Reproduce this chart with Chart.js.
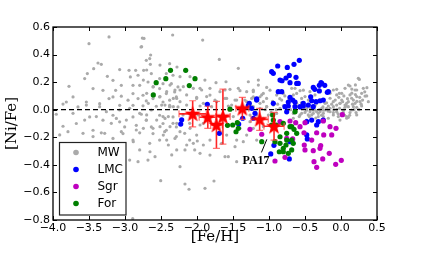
<!DOCTYPE html>
<html>
<head>
<meta charset="utf-8">
<script src="https://cdn.jsdelivr.net/npm/chart.js@4.4.1/dist/chart.umd.min.js"></script>
<style>
html, body { margin: 0; padding: 0; background: #fff; }
canvas { display: block; }
</style>
</head>
<body>
<canvas id="myChart" width="421" height="261"></canvas>
<script>
const xTicks = [-4.0, -3.5, -3.0, -2.5, -2.0, -1.5, -1.0, -0.5, 0.0, 0.5];
const yTicks = [-0.8, -0.6, -0.4, -0.2, 0.0, 0.2, 0.4, 0.6];
const xTitle = '[Fe/H]';
const yTitle = '[Ni/Fe]';
const legendNames = ['MW', 'LMC', 'Sgr', 'For'];
const legendColors = ['#aaaaaa', '#0000ff', '#bf00bf', '#007f00'];

// [Fe/H], [Ni/Fe]
const mw = [
    [-3.5,0.479],[-3.222,0.528],[-2.759,0.52],[-3.523,0.262],[-3.778,0.17],[-3.56,0.226],[-3.722,0.093],[-3.815,0.056],
    [-3.375,0.339],[-3.329,0.329],[-3.435,0.298],[-3.245,0.242],[-3.167,0.213],[-3.444,0.153],[-3.306,0.141],[-3.13,0.141],
    [-3.051,0.177],[-2.926,0.238],[-3.074,0.291],[-2.944,0.286],[-2.852,0.286],[-2.778,0.455],[-2.657,0.371],[-2.704,0.358],
    [-2.648,0.329],[-2.741,0.286],[-2.819,0.25],[-2.634,0.262],[-2.889,0.177],[-2.796,0.177],[-2.68,0.201],[-2.611,0.165],
    [-2.519,0.153],[-2.889,0.117],[-3.051,0.098],[-3.167,0.093],[-3.222,0.081],[-2.958,0.069],[-2.819,0.081],[-2.75,0.105],
    [-2.704,0.064],[-2.611,0.081],[-2.519,0.093],[-2.426,0.117],[-2.472,0.056],[-2.38,0.069],[-2.287,0.093],[-2.31,0.129],
    [-2.264,0.165],[-2.472,0.189],[-2.356,0.189],[-2.519,0.226],[-2.426,0.262],[-2.333,0.25],[-2.278,0.31],[-2.38,0.334],
    [-3.074,0.032],[-2.889,0.032],[-2.75,0.028],[-2.565,0.025],[-2.38,0.032],[-2.264,0.02],[-3.352,0.044],[-3.537,0.056],
    [-3.653,0.02],[-3.954,-0.033],[-3.861,-0.12],[-3.676,-0.1],[-3.491,-0.052],[-3.306,-0.076],[-3.444,-0.149],[-3.329,-0.168],
    [-3.167,-0.04],[-3.074,-0.088],[-3.005,-0.125],[-2.889,-0.052],[-2.843,-0.113],[-2.773,-0.033],[-2.704,-0.076],[-2.634,-0.125],
    [-2.611,-0.173],[-2.519,-0.04],[-2.472,-0.1],[-2.426,-0.149],[-2.333,-0.052],[-2.287,-0.125],[-3.028,-0.173],[-2.796,-0.168],
    [-3.861,0.041],[-3.722,-0.026],[-3.537,0.034],[-3.56,-0.075],[-3.352,0.022],[-3.398,-0.05],[-3.259,-0.014],[-3.19,-0.099],
    [-3.074,-0.002],[-3.12,-0.063],[-2.935,0.01],[-2.981,-0.075],[-2.843,-0.147],[-2.796,-0.026],[-2.704,-0.075],[-2.634,-0.002],
    [-2.611,-0.135],[-2.472,-0.05],[-2.449,-0.159],[-2.38,0.022],[-2.333,-0.099],[-2.287,-0.195],[-2.519,-0.22],[-2.657,-0.244],
    [-2.796,-0.292],[-2.889,-0.22],[-2.935,-0.365],[-3.051,-0.159],[-3.167,-0.208],[-3.282,-0.171],[-3.444,-0.195],[-3.583,-0.171],
    [-3.792,-0.159],[-3.907,-0.183],[-2.819,-0.377],[-2.681,-0.365],[-2.102,-0.22],[-2.032,-0.292],[-2.171,-0.171],[-2.102,-0.099],
    [-2.194,-0.038],[-2.885,-0.232],[-2.893,-0.79],
    [-2.504,-0.515],[-2.167,-0.539],[-2.111,-0.577],[-1.889,-0.57],[-1.764,-0.517],[-2.653,-0.305],[-2.583,-0.341],[-2.421,-0.22],
    [-2.282,-0.292],[-2.351,-0.328],[-2.143,-0.256],[-1.996,-0.227],[-1.958,-0.316],[-1.611,-0.341],[-2.236,-0.413],[-1.449,-0.22],
    [-2.338,0.542],[-1.921,0.505],[-1.69,0.365],[-2.736,0.517],[-2.644,0.397],[-2.769,0.457],[-2.699,0.288],[-2.514,0.324],
    [-2.236,0.24],[-2.097,0.24],[-1.89,0.215],[-1.736,0.196],[-1.597,0.203],[-1.426,0.3],[-1.287,0.203],[-1.148,0.215],
    [-1.032,0.162],[-2.745,0.215],[-2.607,0.167],[-2.375,0.179],[-2.306,0.143],[-2.19,0.167],[-2.051,0.155],[-1.935,0.143],
    [-1.82,0.155],[-1.681,0.131],[-1.542,0.148],[-1.403,0.138],[-1.218,0.131],[-1.102,0.107],[-2.699,0.119],[-2.514,0.095],
    [-2.282,0.082],[-2.144,0.107],[-2.005,0.09],[-1.866,0.095],[-1.75,0.07],[-1.611,0.082],[-1.472,0.07],[-1.334,0.07],
    [-1.195,0.082],[-1.079,0.058],[-2.676,0.046],[-2.445,0.034],[-2.329,0.022],[-1.958,0.027],[-1.797,0.022],[-1.565,0.027],
    [-1.241,0.027],[-1.032,0.022],[-2.699,-0.038],[-2.56,-0.075],[-2.398,-0.05],[-2.282,-0.099],[-1.982,-0.038],[-1.912,-0.099],
    [-1.496,-0.05],[-1.426,-0.104],[-1.264,-0.087],[-1.171,-0.038],[-1.079,-0.123],[-2.745,-0.135],[-2.514,-0.123],
    [-2.444,-0.063],[-2.375,-0.123],[-2.468,-0.184],[-2.306,-0.208],[-2.236,-0.159],[-2.097,-0.135],[-2.005,-0.184],[-1.958,-0.111],
    [-2.051,-0.244],[-1.912,-0.256],[-2.167,-0.292],[-2.398,-0.256],[-1.82,-0.22],[-1.658,-0.244],[-1.588,-0.184],[-1.403,-0.135],
    [-1.31,-0.184],[-1.357,-0.232],[-1.472,-0.268],[-1.218,-0.135],[-1.82,-0.329],[-1.565,-0.341],[-1.449,-0.377],[-1.171,-0.22],
    [-2.421,0.131],[-2.329,0.082],[-2.491,0.034],[-2.375,0.022],[-2.236,0.058],[-2.005,0.082],[-1.912,0.046],[-1.82,0.106],
    [-1.727,0.058],[-1.588,0.082],[-1.519,0.034],[-1.449,0.07],[-1.31,0.131],[-1.218,0.094],[-1.125,0.046],[-1.033,0.082],
    [-1.611,0.143],[-1.958,0.155],[-2.236,0.143],[-2.144,0.034],[-1.426,0.155],
    [-1.218,0.142],[-1.148,0.179],[-1.079,0.118],[-1.125,0.094],[-1.241,0.082],[-1.31,0.058],[-0.986,0.142],[-0.894,0.106],
    [-0.801,0.118],[-0.824,0.07],[-0.732,0.058],[-0.94,0.034],[-1.033,0.022],[-1.125,0.01],[-1.218,0.022],[-0.847,0.01],
    [-0.755,-0.003],[-0.894,-0.027],[-1.009,-0.039],[-1.079,-0.063],[-1.264,-0.039],[-0.662,-0.027],[-0.57,0.01],[-0.477,-0.003],
    [-0.384,-0.003],[-0.315,-0.027],[-0.246,-0.003],[-0.153,0.01],[-0.06,-0.015],[0.032,-0.003],[0.078,0.046],[-0.014,0.046],
    [-0.107,0.058],[-0.222,0.046],[-0.338,0.058],[-0.454,0.07],[-0.547,0.082],[-0.616,0.118],[-0.685,0.155],[-0.523,0.142],
    [-0.639,0.155],[-0.569,0.138],[-0.662,0.107],[-0.5,0.095],[-0.431,0.131],[-0.361,0.107],[-0.153,0.131],[-0.06,0.148],
    [-0.023,0.119],[0.056,0.155],[0.125,0.172],[0.195,0.143],[0.255,0.22],[0.334,0.099],[0.172,0.07],[0.023,0.058],
    [-0.106,0.022],[-0.222,-0.002],[-0.338,-0.014],[-0.477,0.01],[-0.616,0.046],[-0.755,-0.002],[-0.569,-0.038],[-0.407,-0.038],
    [-0.245,-0.05],[-0.106,-0.038],[0.033,-0.021],[-0.014,-0.075],[0.079,-0.05],[0.148,-0.002],[0.209,-0.021],[0.218,0.017],
    [0.102,0.022],[-0.268,-0.075],[-0.477,-0.075],[-0.662,-0.062],
    [0.102,0.179],[0.241,0.228],[0.287,0.119],[0.357,0.1],[0.38,0.058],[0.218,0.095],[0.125,0.107],[0.01,0.119],
    [-0.06,0.107],[-0.106,0.143],[-0.152,0.083],[0.01,0.07],[0.102,0.058],[0.195,0.046],[0.264,0.058],[0.287,0.027],
    [0.172,0.022],[0.056,0.017],[-0.06,0.034],[-0.176,0.027],[-0.268,0.01],[-0.361,-0.002],[-0.43,-0.014],[-0.245,-0.026],
    [-0.106,-0.021],[0.01,-0.026],[0.125,-0.021],[0.218,-0.038],[0.102,-0.055],[-0.037,-0.05],[-0.176,-0.062],[-0.315,-0.05],
    [-0.454,-0.038],[-0.546,-0.026],[-0.523,0.01],[-0.592,0.022],[-0.662,0.07],[-0.43,0.07],[-0.338,0.046],[-0.152,0.119],
    [-0.199,0.01],[0.033,-0.002],[-0.06,0.003],[-0.152,-0.014],[-0.29,-0.014],[-0.384,-0.026],[-0.014,0.046],[0.056,0.034],
    [0.148,0.083],[0.218,0.143],[0.31,0.155],[0.079,-0.062],
    [-0.95,0.06],[-0.88,0.04],[-0.8,0.03],[-0.7,0.0],[-0.62,-0.01],[-0.55,0.05],[-0.48,0.03],[-0.42,0.01],
    [-0.36,0.03],[-0.3,0.0],[-0.25,0.02],[-0.2,0.05],[-0.13,0.04],[-0.08,0.07],[-0.03,0.09],[0.04,0.1],
    [0.09,0.08],[0.15,0.12],[0.2,0.11],[0.26,0.09],[0.3,0.07],[0.22,0.06],[0.16,0.04],[0.07,0.03],
    [-0.02,0.01],[-0.1,0.0],[-0.18,-0.01],[-0.27,-0.04],[-0.35,-0.06],[-0.44,-0.05],[-0.5,-0.02],[-0.58,-0.05],
    [-0.65,0.03],[-0.72,0.08],[-0.78,0.1],[-0.85,0.08],[-0.9,0.0],[-0.97,-0.02],[-1.05,0.0],[0.12,-0.04],
    [0.05,-0.04],[-0.04,-0.03],[0.18,0.0],[0.25,0.0],[0.28,0.04],[0.33,0.13],[0.36,0.16],[0.2,0.18],[0.15,0.15]
];

const lmc = [
    [-0.579,0.358],[-0.653,0.329],[-0.746,0.307],[-0.879,0.317],[-0.963,0.276],[-0.94,0.264],[-0.718,0.249],[-0.764,0.23],
    [-0.819,0.21],[-0.625,0.235],[-0.615,0.191],[-0.847,0.215],[-0.385,0.162],[-0.365,0.148],[-0.278,0.196],[-0.301,0.177],
    [-0.226,0.177],[-0.19,0.126],[-0.301,0.136],[-0.708,0.09],[-0.671,0.07],[-0.732,0.056],[-0.639,0.056],[-0.524,0.046],
    [-0.421,0.094],[-0.407,0.065],[-0.347,0.058],[-0.292,0.065],[-0.246,0.07],[-0.385,0.022],[-0.454,0.034],[-0.524,0.027],
    [-0.569,0.022],[-0.639,0.022],[-0.732,0.027],[-0.778,0.022],[-0.754,-0.015],[-0.824,0.131],[-0.871,0.131],[-0.94,0.046],
    [-1.171,0.07],[-1.24,0.01],[-1.274,0.046],[-1.194,-0.026],[-1.218,-0.062],[-0.476,-0.087],[-0.407,-0.075],[-0.338,-0.111],
    [-0.476,-0.183],[-0.246,-0.075],[-0.315,-0.087],[-0.931,-0.258],[-0.976,-0.321],[-0.718,-0.357],[-0.708,-0.232],[-0.468,-0.212],
    [-2.213,-0.073],[-2.226,-0.104],[-1.857,0.039],[-1.69,-0.171],[-1.421,-0.104],[-1.365,-0.062],[-1.288,0.029],[-1.171,0.078],
    [-0.268,0.191],[-0.176,0.131],[-0.593,0.191],[-0.708,0.196]
];

const sgr = [
    [0.018,-0.036],[-0.153,-0.123],[-0.069,-0.135],[-0.24,-0.183],[-0.129,-0.183],[-0.338,-0.167],[-0.5,-0.094],[-0.514,-0.167],
    [-0.51,-0.256],[-0.385,-0.297],[-0.292,-0.28],[-0.282,-0.26],[-0.163,-0.316],[-0.375,-0.377],[-0.254,-0.357],[-0.338,-0.418],
    [-0.074,-0.396],[0.004,-0.367],[-0.246,-0.082],[-0.629,-0.094],[-0.569,-0.123],[-0.671,-0.212],[-0.778,-0.345],[-0.754,-0.207],
    [-1.264,-0.142],[-0.917,-0.372],[-1.101,-0.178],[-0.708,-0.082],[-0.407,-0.22],[-0.847,-0.087],[-0.5,-0.292]
];

const fornax = [
    [-2.368,0.286],[-2.433,0.225],[-2.567,0.196],[-2.607,0.107],[-2.157,0.286],[-2.028,0.225],[-2.107,0.175],[-1.542,0.004],
    [-1.576,-0.113],[-1.504,-0.111],[-1.44,-0.094],[-1.458,-0.16],[-1.426,-0.135],[-0.639,-0.015],[-0.949,-0.038],[-0.94,-0.075],
    [-0.963,-0.111],[-0.903,-0.111],[-0.801,-0.099],[-0.708,-0.123],[-0.653,-0.142],[-0.615,-0.171],[-0.754,-0.171],[-0.847,-0.196],
    [-0.917,-0.232],[-0.847,-0.244],[-0.764,-0.256],[-0.685,-0.292],[-0.801,-0.305],[-0.732,-0.316],[-0.857,-0.305],[-1.101,-0.232],
    [-0.685,-0.22],[-0.754,-0.22],[-0.663,-0.244],[-0.801,-0.28],[-0.685,-0.123]
];

const starFeH = [-2.06, -1.85, -1.73, -1.64, -1.37, -1.13, -0.93];
const starNiFe = [-0.03, -0.055, -0.11, -0.05, 0.01, -0.07, -0.12];
const starFeHErr = [0.19, 0.12, 0.08, 0.1, 0.09, 0.12, 0.14];
const starNiFeErr = [0.095, 0.08, 0.17, 0.2, 0.08, 0.08, 0.1];

const pa17Label = { text: 'PA17', x: -1.18, y: -0.372 };
const pa17Line = [[-1.105, -0.31], [-1.03, -0.215]];

function toXY(arr) {
    return arr.map(p => ({ x: p[0], y: p[1] }));
}

function fmt(v) {
    if (Math.abs(v) < 1e-9) return '0.0';
    return (v < 0 ? '\u2212' : '') + Math.abs(v).toFixed(1);
}

function makeStar() {
    const c = document.createElement('canvas');
    c.width = 18; c.height = 18;
    const g = c.getContext('2d');
    g.beginPath();
    for (let i = 0; i < 10; i++) {
        const r = i % 2 == 0 ? 8.5 : 3.4;
        const a = -Math.PI / 2 + i * Math.PI / 5;
        const px = 9 + r * Math.cos(a), py = 9.5 + r * Math.sin(a);
        if (i == 0) g.moveTo(px, py); else g.lineTo(px, py);
    }
    g.closePath();
    g.fillStyle = '#ff0000';
    g.fill();
    return c;
}

const starImg = makeStar();

const extras = {
    id: 'extras',
    beforeDatasetDraw(chart, args) {
        if (args.index !== 5) return;
        const xs = chart.scales.x, ys = chart.scales.y, ctx = chart.ctx;
        ctx.save();
        for (let i = 0; i < starFeH.length; i++) {
            const px = xs.getPixelForValue(starFeH[i]);
            const py = ys.getPixelForValue(starNiFe[i]);
            const x0 = xs.getPixelForValue(starFeH[i] - starFeHErr[i]);
            const x1 = xs.getPixelForValue(starFeH[i] + starFeHErr[i]);
            const y0 = ys.getPixelForValue(starNiFe[i] - starNiFeErr[i]);
            const y1 = ys.getPixelForValue(starNiFe[i] + starNiFeErr[i]);
            ctx.strokeStyle = 'rgba(255,0,0,0.85)';
            ctx.lineWidth = 1.6;
            ctx.beginPath();
            ctx.moveTo(x0, py); ctx.lineTo(x1, py);
            ctx.moveTo(px, y0); ctx.lineTo(px, y1);
            ctx.stroke();
            ctx.strokeStyle = 'rgba(255,80,80,0.8)';
            ctx.lineWidth = 1.2;
            ctx.beginPath();
            ctx.moveTo(x0, py - 3.5); ctx.lineTo(x0, py + 3.5);
            ctx.moveTo(x1, py - 3.5); ctx.lineTo(x1, py + 3.5);
            ctx.moveTo(px - 3.5, y0); ctx.lineTo(px + 3.5, y0);
            ctx.moveTo(px - 3.5, y1); ctx.lineTo(px + 3.5, y1);
            ctx.stroke();
        }
        ctx.restore();
    },
    afterDraw(chart) {
        const xs = chart.scales.x, ys = chart.scales.y, ctx = chart.ctx;
        const a = chart.chartArea;
        ctx.save();
        // inward ticks on all sides
        ctx.strokeStyle = '#000';
        ctx.lineWidth = 1;
        ctx.beginPath();
        xTicks.forEach(v => {
            const px = Math.round(xs.getPixelForValue(v)) + 0.5;
            ctx.moveTo(px, a.bottom); ctx.lineTo(px, a.bottom - 4);
            ctx.moveTo(px, a.top); ctx.lineTo(px, a.top + 4);
        });
        yTicks.forEach(v => {
            const py = Math.round(ys.getPixelForValue(v)) + 0.5;
            ctx.moveTo(a.left, py); ctx.lineTo(a.left + 4, py);
            ctx.moveTo(a.right, py); ctx.lineTo(a.right - 4, py);
        });
        ctx.stroke();
        ctx.lineWidth = 1.3;
        ctx.strokeRect(a.left, a.top, a.right - a.left, a.bottom - a.top);

        // axis titles
        ctx.fillStyle = '#000';
        ctx.font = '15px "DejaVu Serif"';
        ctx.textAlign = 'center';
        ctx.textBaseline = 'middle';
        ctx.fillText(xTitle, (a.left + a.right) / 2, 237);
        ctx.save();
        ctx.translate(12, (a.top + a.bottom) / 2);
        ctx.rotate(-Math.PI / 2);
        ctx.fillText(yTitle, 0, 0);
        ctx.restore();

        // PA17 label
        ctx.beginPath();
        ctx.lineWidth = 1;
        ctx.moveTo(xs.getPixelForValue(pa17Line[0][0]), ys.getPixelForValue(pa17Line[0][1]));
        ctx.lineTo(xs.getPixelForValue(pa17Line[1][0]), ys.getPixelForValue(pa17Line[1][1]));
        ctx.stroke();
        ctx.font = 'bold 12px "Liberation Serif"';
        ctx.fillText(pa17Label.text, xs.getPixelForValue(pa17Label.x), ys.getPixelForValue(pa17Label.y));

        // legend box
        const lx = 59.5, ly = 142.5, lw = 66.5, lh = 72.5;
        ctx.fillStyle = '#fff';
        ctx.fillRect(lx, ly, lw, lh);
        ctx.strokeStyle = '#222';
        ctx.lineWidth = 1.2;
        ctx.strokeRect(lx, ly, lw, lh);
        ctx.font = '12px "DejaVu Sans"';
        ctx.textAlign = 'left';
        legendNames.forEach((name, i) => {
            const ry = 152.5 + i * 17;
            ctx.fillStyle = legendColors[i];
            ctx.beginPath();
            ctx.arc(76, ry, 2.8, 0, Math.PI * 2);
            ctx.fill();
            ctx.fillStyle = '#000';
            ctx.fillText(name, 97.5, ry + 0.5);
        });
        ctx.restore();
    }
};

const ctx = document.getElementById('myChart');
new Chart(ctx, {
    type: 'scatter',
    data: {
        datasets: [{
            label: 'MW',
            data: toXY(mw),
            backgroundColor: '#aaaaaa',
            pointRadius: 1.6,
            borderWidth: 0,
            order: 6
        },
        {
            label: 'zero',
            data: [{ x: -4, y: 0 }, { x: 0.5, y: 0 }],
            showLine: true,
            borderColor: '#000',
            borderWidth: 1.2,
            borderDash: [5, 3],
            pointRadius: 0,
            order: 5
        },
        {
            label: 'LMC',
            data: toXY(lmc),
            backgroundColor: '#0000ff',
            pointRadius: 2.6,
            borderWidth: 0,
            order: 4
        },
        {
            label: 'Sgr',
            data: toXY(sgr),
            backgroundColor: '#bf00bf',
            pointRadius: 2.6,
            borderWidth: 0,
            order: 3
        },
        {
            label: 'For',
            data: toXY(fornax),
            backgroundColor: '#007f00',
            pointRadius: 2.6,
            borderWidth: 0,
            order: 2
        },
        {
            label: 'stars',
            data: starFeH.map((v, i) => ({ x: v, y: starNiFe[i] })),
            pointStyle: starImg,
            order: 1
        }]
    },
    options: {
        responsive: false,
        animation: false,
        devicePixelRatio: 1,
        layout: { padding: { left: 0, top: 27, right: 44, bottom: 0 } },
        plugins: {
            legend: { display: false },
            tooltip: { enabled: false }
        },
        scales: {
            x: {
                type: 'linear',
                min: -4,
                max: 0.5,
                afterFit: (s) => { s.height = 41; },
                afterBuildTicks: (s) => { s.ticks = xTicks.map(v => ({ value: v })); },
                grid: { display: false, drawTicks: false },
                border: { display: false },
                ticks: {
                    color: '#000',
                    padding: 2,
                    maxRotation: 0,
                    font: { family: 'DejaVu Sans', size: 11 },
                    callback: (v) => fmt(v)
                }
            },
            y: {
                type: 'linear',
                min: -0.8,
                max: 0.6,
                afterFit: (s) => { s.width = 53; },
                afterBuildTicks: (s) => { s.ticks = yTicks.map(v => ({ value: v })); },
                grid: { display: false, drawTicks: false },
                border: { display: false },
                ticks: {
                    color: '#000',
                    padding: 3,
                    font: { family: 'DejaVu Sans', size: 11 },
                    callback: (v) => fmt(v)
                }
            }
        }
    },
    plugins: [extras]
});
</script>
</body>
</html>
